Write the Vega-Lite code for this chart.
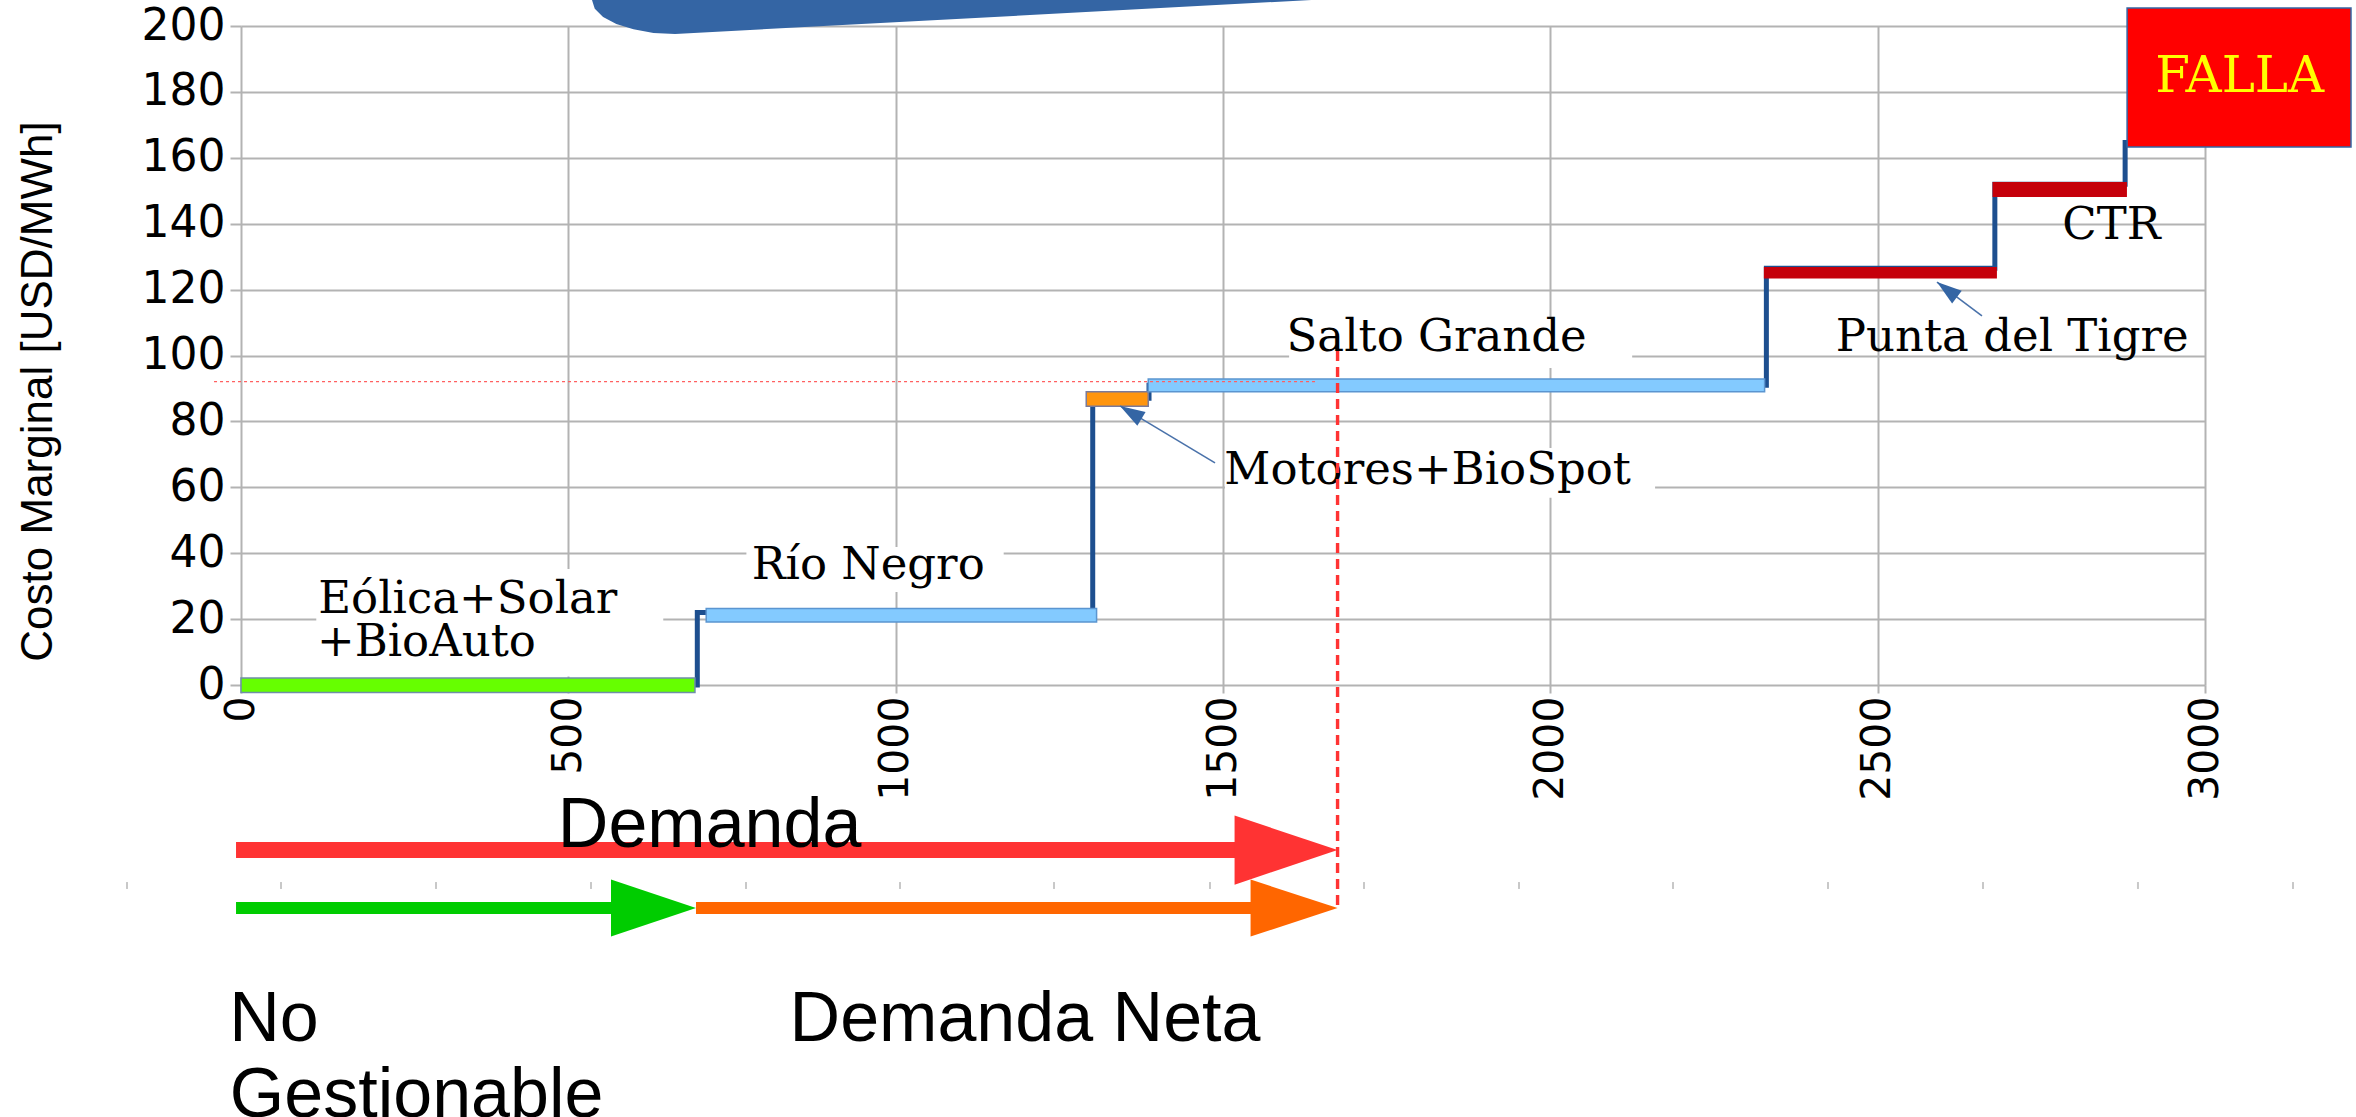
{
  "$schema": "https://vega.github.io/schema/vega-lite/v6.json",
  "width": 1964,
  "height": 659,
  "autosize": {"type": "none"},
  "padding": {"left": 241, "top": 26, "right": 151, "bottom": 432},
  "background": "white",
  "config": {
    "view": {"stroke": null},
    "axis": {"gridColor": "#b3b3b3", "gridWidth": 2, "tickColor": "#b3b3b3", "tickWidth": 2, "domain": false, "labelColor": "#000000", "labelFlush": false, "labelOverlap": false, "labelBound": false}
  },
  "datasets": {
    "blob": [
      {"x": 536.1, "y": 207.9, "y2": 215},
      {"x": 540.4, "y": 205.2, "y2": 215},
      {"x": 553.1, "y": 202.7, "y2": 215},
      {"x": 573.3, "y": 200.6, "y2": 215},
      {"x": 599.5, "y": 199.0, "y2": 215},
      {"x": 630.1, "y": 197.9, "y2": 215},
      {"x": 663.0, "y": 197.6, "y2": 215},
      {"x": 1635.9, "y": 207.9, "y2": 215}
    ],
    "boxes": [
      {"x": 115, "x2": 645, "y": 2.6, "y2": 35.2},
      {"x": 772, "x2": 1165, "y": 28.2, "y2": 41.9},
      {"x": 1601, "x2": 2125, "y": 96.2, "y2": 111.4},
      {"x": 1503, "x2": 2160, "y": 56.8, "y2": 71.9}
    ],
    "ticks": [
      {"x": -174.1, "y": -59.8, "y2": -61.9},
      {"x": 61.1, "y": -59.8, "y2": -61.9},
      {"x": 297.9, "y": -59.8, "y2": -61.9},
      {"x": 534.6, "y": -59.8, "y2": -61.9},
      {"x": 771.4, "y": -59.8, "y2": -61.9},
      {"x": 1006.6, "y": -59.8, "y2": -61.9},
      {"x": 1241.9, "y": -59.8, "y2": -61.9},
      {"x": 1480.1, "y": -59.8, "y2": -61.9},
      {"x": 1715.4, "y": -59.8, "y2": -61.9},
      {"x": 1952.1, "y": -59.8, "y2": -61.9},
      {"x": 2187.4, "y": -59.8, "y2": -61.9},
      {"x": 2424.1, "y": -59.8, "y2": -61.9},
      {"x": 2660.9, "y": -59.8, "y2": -61.9},
      {"x": 2897.6, "y": -59.8, "y2": -61.9},
      {"x": 3134.4, "y": -59.8, "y2": -61.9}
    ],
    "step": [
      {"i": 1, "x": 0, "y": 0},
      {"i": 2, "x": 697, "y": 0},
      {"i": 3, "x": 697, "y": 22},
      {"i": 4, "x": 1301, "y": 22},
      {"i": 5, "x": 1301, "y": 87},
      {"i": 6, "x": 1387, "y": 87},
      {"i": 7, "x": 1387, "y": 91},
      {"i": 8, "x": 2330, "y": 91},
      {"i": 9, "x": 2330, "y": 126.5},
      {"i": 10, "x": 2679, "y": 126.5},
      {"i": 11, "x": 2679, "y": 152},
      {"i": 12, "x": 2878, "y": 152},
      {"i": 13, "x": 2878, "y": 165.4}
    ],
    "bars": [
      {"name": "Eólica+Solar+BioAuto", "x": 0, "x2": 693.4, "y": -2.3, "y2": 2.1},
      {"name": "Río Negro", "x": 710.6, "x2": 1306.9, "y": 19.1, "y2": 23.2},
      {"name": "Motores+BioSpot", "x": 1291.1, "x2": 1385.8, "y": 84.6, "y2": 89.0},
      {"name": "Salto Grande", "x": 1385.8, "x2": 2327.3, "y": 89.0, "y2": 92.9},
      {"name": "Punta del Tigre", "x": 2327.3, "x2": 2681, "y": 123.6, "y2": 126.6},
      {"name": "CTR", "x": 2676.6, "x2": 2879.6, "y": 148.3, "y2": 152.4}
    ],
    "anno": [
      {"x": 1487.8, "y": 67.4, "x2": 1342.7, "y2": 84.7},
      {"x": 2659.3, "y": 112.0, "x2": 2590.6, "y2": 122.3}
    ],
    "labels": [
      {"label": "Eólica+Solar", "x": 118, "y": 22.0},
      {"label": "+BioAuto", "x": 116, "y": 8.8},
      {"label": "Río Negro", "x": 780, "y": 32.3},
      {"label": "Salto Grande", "x": 1597, "y": 101.4},
      {"label": "Motores+BioSpot", "x": 1502, "y": 60.9},
      {"label": "Punta del Tigre", "x": 2436, "y": 101.4},
      {"label": "CTR", "x": 2782, "y": 135.4}
    ],
    "bottomText": [
      {"label": "Demanda", "x": 484, "y": -49.2},
      {"label": "No", "x": -18, "y": -108.0},
      {"label": "Gestionable", "x": -17, "y": -131.1},
      {"label": "Demanda Neta", "x": 838, "y": -108.0}
    ]
  },
  "layer": [
    {
      "data": {"name": "blob"},
      "mark": {"type": "area", "orient": "vertical", "color": "#3465a4"},
      "encoding": {
        "x": {"field": "x", "type": "quantitative",
          "scale": {"domain": [0, 3000], "nice": false, "zero": false},
          "axis": {"values": [0, 500, 1000, 1500, 2000, 2500, 3000], "format": "d", "labelAngle": -90, "labelFont": "DejaVu Sans", "labelFontSize": 41, "tickSize": 8, "labelPadding": 3, "title": null, "grid": true}},
        "y": {"field": "y", "type": "quantitative",
          "scale": {"domain": [0, 200], "nice": false, "zero": false},
          "axis": {"values": [0, 20, 40, 60, 80, 100, 120, 140, 160, 180, 200], "format": "d", "labelFont": "DejaVu Sans", "labelFontSize": 44, "tickSize": 11, "labelPadding": 5, "grid": true,
            "title": "Costo Marginal [USD/MWh]", "titleFont": "Liberation Sans", "titleFontSize": 44, "titleFontWeight": "normal", "titleColor": "#000000", "titleAngle": -90, "titleX": -190, "titleY": 365, "titleAlign": "center", "titleBaseline": "alphabetic"}},
        "y2": {"field": "y2"}
      }
    },
    {
      "data": {"name": "boxes"},
      "mark": {"type": "rect", "color": "white"},
      "encoding": {
        "x": {"field": "x", "type": "quantitative"}, "x2": {"field": "x2"},
        "y": {"field": "y", "type": "quantitative"}, "y2": {"field": "y2"}
      }
    },
    {
      "data": {"name": "ticks"},
      "mark": {"type": "rule", "color": "#c8c8c8", "strokeWidth": 2},
      "encoding": {
        "x": {"field": "x", "type": "quantitative"},
        "y": {"field": "y", "type": "quantitative"}, "y2": {"field": "y2"}
      }
    },
    {
      "data": {"name": "step"},
      "mark": {"type": "line", "color": "#1d4f8f", "strokeWidth": 5, "interpolate": "linear"},
      "encoding": {
        "x": {"field": "x", "type": "quantitative"},
        "y": {"field": "y", "type": "quantitative"},
        "order": {"field": "i", "type": "quantitative"}
      }
    },
    {
      "data": {"name": "bars"},
      "mark": {"type": "rect", "strokeWidth": 1.5, "opacity": 1},
      "encoding": {
        "x": {"field": "x", "type": "quantitative"}, "x2": {"field": "x2"},
        "y": {"field": "y", "type": "quantitative"}, "y2": {"field": "y2"},
        "fill": {"field": "name", "type": "nominal", "legend": null,
          "scale": {"domain": ["Eólica+Solar+BioAuto", "Río Negro", "Motores+BioSpot", "Salto Grande", "Punta del Tigre", "CTR"],
            "range": ["#66ff00", "#83caff", "#ff950e", "#83caff", "#c5000b", "#c5000b"]}},
        "stroke": {"field": "name", "type": "nominal", "legend": null,
          "scale": {"domain": ["Eólica+Solar+BioAuto", "Río Negro", "Motores+BioSpot", "Salto Grande", "Punta del Tigre", "CTR"],
            "range": ["#6f8fa8", "#5b95d0", "#7a7a9a", "#5b95d0", "#c5000b", "#c5000b"]}}
      }
    },
    {
      "data": {"values": [{"x": -41.2, "x2": 1644.5, "y": 92.05}]},
      "mark": {"type": "rule", "color": "#ff6060", "strokeWidth": 1.3, "strokeDash": [3, 3]},
      "encoding": {
        "x": {"field": "x", "type": "quantitative"}, "x2": {"field": "x2"},
        "y": {"field": "y", "type": "quantitative"}
      }
    },
    {
      "data": {"name": "anno"},
      "mark": {"type": "rule", "color": "#4a72aa", "strokeWidth": 1.6},
      "encoding": {
        "x": {"field": "x", "type": "quantitative"}, "x2": {"field": "x2"},
        "y": {"field": "y", "type": "quantitative"}, "y2": {"field": "y2"}
      }
    },
    {
      "data": {"values": [{"x": 1342.7, "y": 84.7}]},
      "mark": {"type": "point", "shape": "M0,0L-0.64,2L0.64,2Z", "size": 625, "filled": true, "opacity": 1, "color": "#3465a4", "angle": 301},
      "encoding": {"x": {"field": "x", "type": "quantitative"}, "y": {"field": "y", "type": "quantitative"}}
    },
    {
      "data": {"values": [{"x": 2590.6, "y": 122.3}]},
      "mark": {"type": "point", "shape": "M0,0L-0.64,2L0.64,2Z", "size": 625, "filled": true, "opacity": 1, "color": "#3465a4", "angle": 307},
      "encoding": {"x": {"field": "x", "type": "quantitative"}, "y": {"field": "y", "type": "quantitative"}}
    },
    {
      "data": {"values": [{"x": 2881, "x2": 3223, "y": 163.3, "y2": 205.5}]},
      "mark": {"type": "rect", "fill": "#ff0000", "stroke": "#3465a4", "strokeWidth": 1.5},
      "encoding": {
        "x": {"field": "x", "type": "quantitative"}, "x2": {"field": "x2"},
        "y": {"field": "y", "type": "quantitative"}, "y2": {"field": "y2"}
      }
    },
    {
      "data": {"values": [{"label": "FALLA", "x": 3053, "y": 180}]},
      "mark": {"type": "text", "font": "DejaVu Serif", "fontSize": 50, "color": "#ffff00", "align": "center", "baseline": "alphabetic"},
      "encoding": {"x": {"field": "x", "type": "quantitative"}, "y": {"field": "y", "type": "quantitative"}, "text": {"field": "label"}}
    },
    {
      "data": {"name": "labels"},
      "mark": {"type": "text", "font": "DejaVu Serif", "fontSize": 45, "color": "#000000", "align": "left", "baseline": "alphabetic"},
      "encoding": {"x": {"field": "x", "type": "quantitative"}, "y": {"field": "y", "type": "quantitative"}, "text": {"field": "label"}}
    },
    {
      "data": {"values": [{"x": 1675, "y": 101.4, "y2": -67.5}]},
      "mark": {"type": "rule", "color": "#ff3333", "strokeWidth": 3.4, "strokeDash": [10, 6]},
      "encoding": {
        "x": {"field": "x", "type": "quantitative"},
        "y": {"field": "y", "type": "quantitative"}, "y2": {"field": "y2"}
      }
    },
    {
      "data": {"values": [{"x": -7.6, "x2": 1520, "y": -50.1}]},
      "mark": {"type": "rule", "color": "#ff3333", "strokeWidth": 16},
      "encoding": {"x": {"field": "x", "type": "quantitative"}, "x2": {"field": "x2"}, "y": {"field": "y", "type": "quantitative"}}
    },
    {
      "data": {"values": [{"x": -7.6, "x2": 568, "y": -67.7}]},
      "mark": {"type": "rule", "color": "#00cc00", "strokeWidth": 12},
      "encoding": {"x": {"field": "x", "type": "quantitative"}, "x2": {"field": "x2"}, "y": {"field": "y", "type": "quantitative"}}
    },
    {
      "data": {"values": [{"x": 695, "x2": 1544, "y": -67.7}]},
      "mark": {"type": "rule", "color": "#ff6600", "strokeWidth": 12},
      "encoding": {"x": {"field": "x", "type": "quantitative"}, "x2": {"field": "x2"}, "y": {"field": "y", "type": "quantitative"}}
    },
    {
      "data": {"values": [{"x": 1675, "y": -50.1}]},
      "mark": {"type": "point", "shape": "M0,0L-1,-0.336L-1,0.336Z", "size": 42436, "filled": true, "opacity": 1, "color": "#ff3333"},
      "encoding": {"x": {"field": "x", "type": "quantitative"}, "y": {"field": "y", "type": "quantitative"}}
    },
    {
      "data": {"values": [{"x": 695, "y": -67.7}]},
      "mark": {"type": "point", "shape": "M0,0L-1,-0.335L-1,0.335Z", "size": 28900, "filled": true, "opacity": 1, "color": "#00cc00"},
      "encoding": {"x": {"field": "x", "type": "quantitative"}, "y": {"field": "y", "type": "quantitative"}}
    },
    {
      "data": {"values": [{"x": 1675, "y": -67.7}]},
      "mark": {"type": "point", "shape": "M0,0L-1,-0.328L-1,0.328Z", "size": 30276, "filled": true, "opacity": 1, "color": "#ff6600"},
      "encoding": {"x": {"field": "x", "type": "quantitative"}, "y": {"field": "y", "type": "quantitative"}}
    },
    {
      "data": {"name": "bottomText"},
      "mark": {"type": "text", "font": "Liberation Sans", "fontSize": 70, "color": "#000000", "align": "left", "baseline": "alphabetic"},
      "encoding": {"x": {"field": "x", "type": "quantitative"}, "y": {"field": "y", "type": "quantitative"}, "text": {"field": "label"}}
    }
  ]
}
